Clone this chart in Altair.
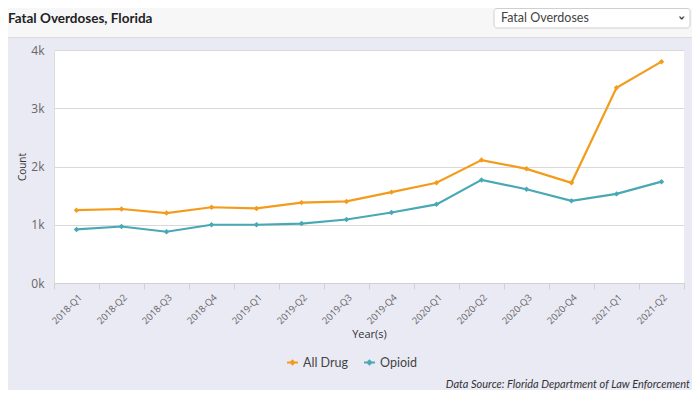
import altair as alt
import pandas as pd

quarters = ["2018-Q1", "2018-Q2", "2018-Q3", "2018-Q4", "2019-Q1", "2019-Q2", "2019-Q3",
            "2019-Q4", "2020-Q1", "2020-Q2", "2020-Q3", "2020-Q4", "2021-Q1", "2021-Q2"]
all_drug = [1250, 1270, 1200, 1300, 1280, 1380, 1400, 1560, 1720, 2110, 1960, 1720, 3350, 3800]
opioid = [920, 970, 880, 1000, 1000, 1020, 1090, 1210, 1350, 1770, 1610, 1410, 1530, 1740]
series_names = ["All Drug", "Opioid"]
series_colors = ["#F39C1B", "#48A9B5"]
title_text = "Fatal Overdoses, Florida"
dropdown_text = "Fatal Overdoses"
source_text = "Data Source: Florida Department of Law Enforcement"

rows = []
for q, a, o in zip(quarters, all_drug, opioid):
    rows.append({"Quarter": q, "Series": "All Drug", "Count": a})
    rows.append({"Quarter": q, "Series": "Opioid", "Count": o})
df = pd.DataFrame(rows)

W, H = 630, 233
FONT = "Open Sans"

# header decorations
one = pd.DataFrame({"t": [title_text]})
header_bg = alt.Chart(one).mark_rect(fill="#f7f7f7", stroke="#dcdcdc", strokeWidth=1).encode(
    x=alt.value(-60), x2=alt.value(W + 20), y=alt.value(-60), y2=alt.value(-12.5))
title = alt.Chart(one).mark_text(align="left", baseline="alphabetic", font="Lato", fontSize=13.5,
                                 fontWeight="bold", color="#222").encode(
    text="t:N", x=alt.value(-46), y=alt.value(-27))
dd = pd.DataFrame({"t": [dropdown_text]})
dropdown = alt.Chart(dd).mark_rect(fill="white", stroke="#cfcfcf", strokeWidth=1, cornerRadius=3).encode(
    x=alt.value(440), x2=alt.value(636), y=alt.value(-41.5), y2=alt.value(-22))
dropdown_label = alt.Chart(dd).mark_text(align="left", baseline="middle", font="Lato", fontSize=12.5,
                                         color="#444").encode(
    text="t:N", x=alt.value(447), y=alt.value(-32))
chev = pd.DataFrame({"t": ["›"]})
chevron = alt.Chart(chev).mark_text(align="center", baseline="middle", font="DejaVu Sans", fontSize=13,
                                    fontWeight="bold", angle=90, color="#333").encode(
    text="t:N", x=alt.value(628), y=alt.value(-32))
src = pd.DataFrame({"t": [source_text]})
source = alt.Chart(src).mark_text(align="right", baseline="alphabetic", font="Lato", fontSize=11,
                                  fontStyle="italic", color="#333").encode(
    text="t:N", x=alt.value(636), y=alt.value(338))

color = alt.Color("Series:N", scale=alt.Scale(domain=series_names, range=series_colors),
                  legend=alt.Legend(title=None, orient="none", legendX=232, legendY=306,
                                    direction="horizontal", labelFont="Lato", labelFontSize=12.5,
                                    labelColor="#444", columnPadding=12, symbolSize=120,
                                    symbolStrokeWidth=2,
                                    symbolType="M-1,0H1M-0.35,0L0,-0.35L0.35,0L0,0.35Z"))

x = alt.X("Quarter:N", sort=quarters, title="Year(s)",
          scale=alt.Scale(paddingInner=0, paddingOuter=0),
          axis=alt.Axis(labelAngle=-45, tickBand="extent", grid=False, labelFont=FONT,
                        labelFontSize=9.5, labelColor="#666", labelPadding=3, tickColor="#d0d0d0",
                        tickSize=6, domainColor="#d0d0d0", titleFont=FONT, titleFontSize=11,
                        titleFontWeight="normal", titleColor="#333", titleBaseline="middle",
                        titleY=51))
y = alt.Y("Count:Q", title="Count", scale=alt.Scale(domain=[0, 4000], nice=False),
          axis=alt.Axis(values=[0, 1000, 2000, 3000, 4000], labelExpr="datum.value/1000 + 'k'",
                        ticks=False, gridColor="#d9d9d9", domainColor="#dcdcdc", labelFont=FONT,
                        labelFontSize=12, labelColor="#666", labelPadding=10, titleFont=FONT,
                        titleFontSize=10, titleFontWeight="normal", titleColor="#333",
                        titleX=-32, titleY=H / 2, titleBaseline="middle"))

lines = alt.Chart(df).mark_line(strokeWidth=2.2, point=alt.OverlayMarkDef(shape="diamond", size=30, filled=True)).encode(
    x=x, y=y, color=color)

chart = alt.layer(header_bg, title, dropdown, dropdown_label, chevron, lines, source).properties(
    width=W, height=H, background="#eaeaf5",
    padding={"left": 46, "top": 42, "right": 8, "bottom": 107},
    autosize=alt.AutoSizeParams(type="none"),
).configure_view(fill="white", stroke=None)

chart.save("out.html", embed_options={"renderer": "svg", "actions": False})
